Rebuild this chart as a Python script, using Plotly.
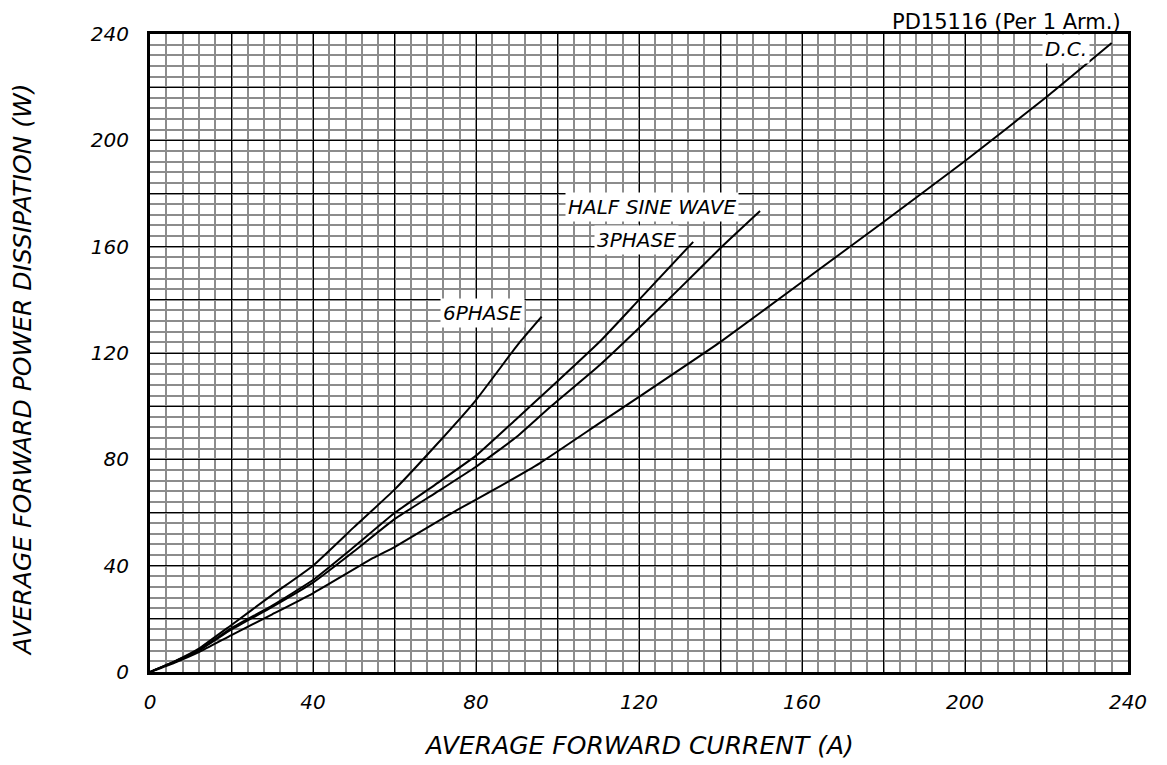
import plotly.graph_objects as go

# ---- data ----
dc_x = [0, 6, 12, 20, 30, 40, 54.8, 60, 75.3, 84.3, 95.7, 110.4, 120, 140, 160, 180, 200, 220, 236]
dc_y = [0, 3.5, 7.5, 13.9, 21.7, 29.6, 42.9, 47, 60.9, 68.5, 78.6, 93.7, 103.5, 124.2, 146.7, 169.3, 192.2, 216.3, 236.6]

hs_x = [0, 6, 12, 20, 30, 40, 50, 60, 70, 80, 90, 98.2, 110.4, 120, 130, 140, 149.7]
hs_y = [0, 3.8, 8, 16, 24.5, 33.6, 45.3, 57.5, 67.3, 77.2, 88.5, 99.7, 115.5, 129.4, 144.3, 159.5, 173.4]

tp_x = [0, 6, 12, 20, 30, 40, 50, 60, 70, 80, 90, 98.2, 110.4, 120, 133.3]
tp_y = [0, 3.9, 8.3, 16.5, 25, 34.6, 47, 59.8, 70.5, 81.4, 95.3, 106.8, 124.3, 140, 161.8]

sx_x = [0, 6, 12, 20, 30, 40, 50, 60, 70, 80, 88.7, 91.2, 96.1]
sx_y = [0, 4, 8.8, 17.7, 29, 40, 54.4, 68.6, 85, 102.3, 120, 124.9, 133.7]

series = [("D.C.", dc_x, dc_y), ("HALF SINE WAVE", hs_x, hs_y),
          ("3PHASE", tp_x, tp_y), ("6PHASE", sx_x, sx_y)]

# label anchor positions (data coords)
label_names = ["6PHASE", "3PHASE", "HALF SINE WAVE", "D.C."]
label_x = [81.7, 119.5, 123.2, 224.8]
label_y = [135.0, 162.5, 174.9, 234.4]

tick_vals = list(range(0, 241, 20))
tick_text = [str(v) if v % 40 == 0 else "" for v in tick_vals]

FONT = "DejaVu Sans"

fig = go.Figure()
for name, xs, ys in series:
    fig.add_trace(go.Scatter(x=xs, y=ys, mode="lines", name=name,
                             line=dict(color="black", width=2, shape="spline", smoothing=0.4),
                             showlegend=False))

axis_common = dict(
    range=[0, 240], tickmode="array", tickvals=tick_vals, ticktext=tick_text,
    showgrid=True, gridcolor="black", gridwidth=1.3,
    minor=dict(tick0=0, dtick=4, showgrid=True, gridcolor="#8c8c8c", gridwidth=2),
    zeroline=False, showline=True, linecolor="black", linewidth=3, mirror=True,
    ticks="", tickfont=dict(family=FONT, size=20, color="black", style="italic"),
    fixedrange=True,
)

fig.update_xaxes(**axis_common, ticklabelstandoff=10)
fig.update_yaxes(**axis_common, ticklabelstandoff=14)

annotations = []
for n, x, y in zip(label_names, label_x, label_y):
    annotations.append(dict(x=x, y=y, xref="x", yref="y", text=n, showarrow=False,
                            font=dict(family=FONT, size=20, color="black", style="italic"),
                            bgcolor="white", borderpad=2))

annotations += [
    dict(xref="paper", yref="paper", x=0.5, y=0, yshift=-73, text="AVERAGE FORWARD CURRENT (A)",
         showarrow=False, xanchor="center", yanchor="middle",
         font=dict(family=FONT, size=25, color="black", style="italic")),
    dict(xref="paper", yref="paper", x=0, y=0.473, xshift=-128, text="AVERAGE FORWARD POWER DISSIPATION (W)",
         showarrow=False, xanchor="center", yanchor="middle", textangle=-90,
         font=dict(family=FONT, size=25, color="black", style="italic")),
    dict(xref="paper", yref="paper", x=0.994, y=1, yshift=12, text="PD15116 (Per 1 Arm.)",
         showarrow=False, xanchor="right", yanchor="middle", borderpad=0,
         font=dict(family=FONT, size=21, color="black")),
]

# the page body adds an 8px offset; compensate so the plot area lands at 150..1128 x 34..672
fig.update_layout(
    width=1159, height=757,
    margin=dict(l=142, r=39, t=26, b=93),
    paper_bgcolor="white", plot_bgcolor="white",
    annotations=annotations,
)

fig.write_html("out.html")
